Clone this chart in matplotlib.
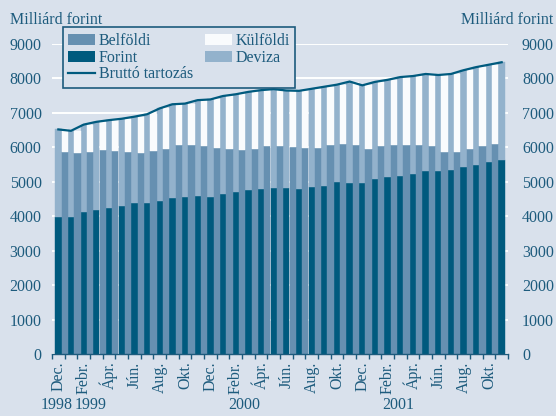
import matplotlib
matplotlib.use("Agg")
import matplotlib.pyplot as plt
import numpy as np
from matplotlib.patches import Patch
from matplotlib.lines import Line2D
from matplotlib.transforms import blended_transform_factory

# ---- data (Milliárd forint) ----
month_labels = ["Dec.", "Febr.", "Ápr.", "Jún.", "Aug.", "Okt."] * 3
years = ["1998", "1999", "2000", "2001"]
year_pos = [-0.15, 2.55, 14.7, 26.8]

# Bruttó tartozás (total), Dec 1998 .. Nov 2001
brutto = [6520, 6480, 6660, 6740, 6790, 6830, 6890, 6960, 7130, 7250,
          7270, 7370, 7390, 7490, 7540, 7610, 7660, 7690, 7650, 7640,
          7700, 7760, 7820, 7910, 7800, 7900, 7960, 8040, 8070, 8130,
          8100, 8130, 8240, 8330, 8400, 8470]
# Forint part (currency split)
forint = [3965, 3990, 4130, 4185, 4245, 4296, 4374, 4374, 4455, 4540,
          4545, 4590, 4562, 4654, 4703, 4755, 4785, 4815, 4810, 4780,
          4858, 4887, 5000, 4974, 4974, 5085, 5143, 5172, 5225, 5312,
          5300, 5330, 5438, 5495, 5575, 5636]
# Belföldi part (holder split), Dec 1998 .. Okt 2001
belfoldi = [5860, 5830, 5860, 5920, 5900, 5860, 5850, 5880, 5960, 6067,
            6067, 6045, 5985, 5945, 5922, 5960, 6025, 6050, 6010, 5990,
            5990, 6057, 6110, 6067, 5965, 6038, 6067, 6080, 6067, 6030,
            5855, 5870, 5965, 6038, 6085]

# ---- styling ----
BG = "#d9e1ec"
C_DARK = "#005a7e"
C_MED = "#6690b1"
C_LIGHT = "#93b2cc"
C_WHITE = "#f9fbfd"
C_TEXT = "#1d5b7d"
FONT = ["Liberation Serif", "DejaVu Serif"]
FS = 11.5

plt.rcParams["font.family"] = FONT

fig = plt.figure(figsize=(5.56, 4.16), dpi=100, facecolor=BG)
ax = fig.add_axes([52 / 556, 62 / 416, 456 / 556, 310 / 416], facecolor=BG)

n = len(brutto)
xc = np.arange(n)
tot = np.array(brutto, dtype=float)
fo = np.array(forint, dtype=float)
de = tot - fo

nh = len(belfoldi)
xh = np.arange(nh) + 0.5
be = np.array(belfoldi, dtype=float)
ku = tot[:nh] - be

w = 0.5
ax.bar(xc, fo, width=w, color=C_DARK, edgecolor=C_DARK, linewidth=0.3, zorder=2)
ax.bar(xc, de, width=w, bottom=fo, color=C_LIGHT, edgecolor=C_LIGHT,
       linewidth=0.3, zorder=2)
ax.bar(xh, be, width=w, color=C_MED, edgecolor=C_MED, linewidth=0.3, zorder=2)
ax.bar(xh, ku, width=w, bottom=be, color=C_WHITE, edgecolor=C_WHITE,
       linewidth=0.3, zorder=2)
ax.plot(xc, tot, color=C_DARK, lw=1.6, zorder=3, solid_joinstyle="round")

ax.set_xlim(-0.5, n - 0.5)
ax.set_ylim(0, 9000)
yt = np.arange(0, 9001, 1000)
ax.set_yticks(yt)
ax.set_yticklabels([str(v) for v in yt])
ax.set_axisbelow(True)
ax.yaxis.grid(True, color="white", lw=1.4)
ax.tick_params(axis="y", length=0, pad=7.5, labelsize=FS, labelcolor=C_TEXT)

ax2 = ax.twinx()
ax2.set_ylim(0, 9000)
ax2.set_yticks(yt)
ax2.set_yticklabels([str(v) for v in yt])
ax2.tick_params(axis="y", length=0, pad=10, labelsize=FS, labelcolor=C_TEXT)
for a in (ax, ax2):
    for s in ("left", "right", "top"):
        a.spines[s].set_visible(False)
ax2.spines["bottom"].set_visible(False)
ax.spines["bottom"].set_color(C_TEXT)
ax.spines["bottom"].set_linewidth(1.0)
ax.spines["bottom"].set_zorder(4)

# x ticks
ax.set_xticks(np.arange(0, n, 2))
ax.set_xticklabels(month_labels[: len(range(0, n, 2))], rotation=90)
ax.set_xticks(np.arange(-0.5, n, 1.0), minor=True)
ax.tick_params(axis="x", which="major", length=0, pad=5.5, labelsize=FS,
               labelcolor=C_TEXT)
ax.tick_params(axis="x", which="minor", length=3.5, width=1.0, color=C_TEXT,
               direction="out")

trans = blended_transform_factory(ax.transData, ax.transAxes)
for yl, xp in zip(years, year_pos):
    ax.text(xp, -0.165, yl, transform=trans, ha="center", va="center",
            fontsize=FS, color=C_TEXT)

fig.text(10 / 556, 1 - 20.5 / 416, "Milliárd forint", ha="left", va="center",
         fontsize=FS, color=C_TEXT)
fig.text(553 / 556, 1 - 20.5 / 416, "Milliárd forint", ha="right", va="center",
         fontsize=FS, color=C_TEXT)

handles = [Patch(facecolor=C_MED, edgecolor="none", label="Belföldi"),
           Patch(facecolor=C_DARK, edgecolor="none", label="Forint"),
           Line2D([], [], color=C_DARK, lw=1.6, label="Bruttó tartozás"),
           Patch(facecolor=C_WHITE, edgecolor="none", label="Külföldi"),
           Patch(facecolor=C_LIGHT, edgecolor="none", label="Deviza")]
leg = fig.legend(handles=handles, ncol=2, loc="upper left",
                 bbox_to_anchor=(62.7 / 556, 1 - 27.3 / 416),
                 bbox_transform=fig.transFigure, borderaxespad=0,
                 fontsize=FS, frameon=True, fancybox=False, framealpha=1,
                 facecolor=BG, edgecolor=C_TEXT, handlelength=1.7,
                 handleheight=0.7, handletextpad=0.2, labelspacing=0.05,
                 columnspacing=0.75, borderpad=0.35)
leg.get_frame().set_linewidth(1.2)
for t in leg.get_texts():
    t.set_color(C_TEXT)

fig.savefig("out.png", dpi=100, facecolor=BG)
